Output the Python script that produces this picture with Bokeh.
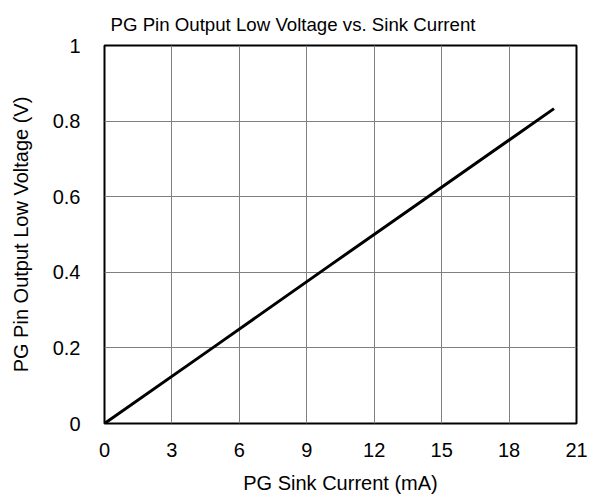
from bokeh.plotting import figure
from bokeh.models import FixedTicker, Range1d
from bokeh.embed import file_html
from bokeh.resources import INLINE

sink_current_ma = [0, 5, 10, 15, 20]
output_low_v = [0.0, 0.208, 0.417, 0.625, 0.833]
x_ticks = [0, 3, 6, 9, 12, 15, 18, 21]
y_ticks = [0, 0.2, 0.4, 0.6, 0.8, 1.0]

FONT = "Liberation Sans"
FS_TITLE = "18.67px"
FS = "20px"

p = figure(width=600, height=496, output_backend="svg", toolbar_location=None,
           x_range=Range1d(0, 21), y_range=Range1d(0, 1),
           min_border_left=104, min_border_right=24, min_border_top=44, min_border_bottom=73)

p.title.text = "PG Pin Output Low Voltage vs. Sink Current"
p.title.text_font = FONT
p.title.text_font_size = FS_TITLE
p.title.text_font_style = "normal"
p.title.text_color = "black"
p.title.align = "left"
p.title.offset = 6
p.title.standoff = 22

p.line(sink_current_ma, output_low_v, line_color="black", line_width=3)

p.outline_line_color = "black"
p.outline_line_width = 2
p.background_fill_color = "white"
p.border_fill_color = "white"

for ax in (p.xaxis[0], p.yaxis[0]):
    ax.axis_line_color = None
    ax.major_tick_line_color = None
    ax.minor_tick_line_color = None
    ax.major_label_text_font = FONT
    ax.major_label_text_font_size = FS
    ax.major_label_text_color = "black"
    ax.axis_label_text_font = FONT
    ax.axis_label_text_font_size = FS
    ax.axis_label_text_font_style = "normal"
    ax.axis_label_text_color = "black"

p.xaxis.ticker = FixedTicker(ticks=x_ticks)
p.yaxis.ticker = FixedTicker(ticks=y_ticks)
p.yaxis.major_label_overrides = {0: "0", 0.2: "0.2", 0.4: "0.4", 0.6: "0.6", 0.8: "0.8", 1: "1"}
p.xaxis.major_label_standoff = 13
p.yaxis.major_label_standoff = 18
p.xaxis.axis_label = "PG Sink Current (mA)"
p.yaxis.axis_label = "PG Pin Output Low Voltage (V)"
p.xaxis.axis_label_standoff = 12
p.yaxis.axis_label_standoff = 18

p.xgrid.grid_line_color = "#808080"
p.ygrid.grid_line_color = "#808080"
p.xgrid.grid_line_width = 1
p.ygrid.grid_line_width = 1

open("out.html", "w").write(file_html(p, INLINE))
